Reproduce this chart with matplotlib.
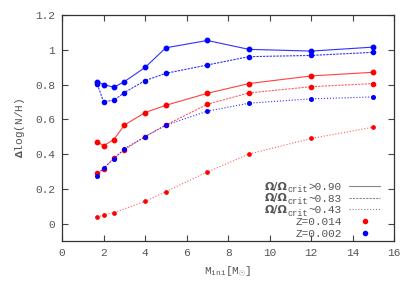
import matplotlib
matplotlib.use("Agg")
import matplotlib.pyplot as plt

plt.rcParams['font.family'] = ['Liberation Mono', 'DejaVu Sans Mono']
plt.rcParams['mathtext.fontset'] = 'custom'
plt.rcParams['mathtext.rm'] = 'Liberation Mono'
plt.rcParams['mathtext.it'] = 'Liberation Mono'
plt.rcParams['mathtext.bf'] = 'Liberation Mono:bold'

# initial masses
m_all = [1.7, 2.0, 2.5, 3.0, 4.0, 5.0, 7.0, 9.0, 12.0, 15.0]
m_no3 = [1.7, 2.0, 2.5, 4.0, 5.0, 7.0, 9.0, 12.0, 15.0]

# Z=0.002 (blue)
blue_fast = [0.817, 0.80, 0.785, 0.817, 0.899, 1.012, 1.054, 1.003, 0.993, 1.016]
blue_mid = [0.802, 0.702, 0.710, 0.754, 0.823, 0.865, 0.913, 0.961, 0.968, 0.986]
blue_slow = [0.276, 0.321, 0.371, 0.431, 0.500, 0.567, 0.647, 0.693, 0.718, 0.729]

# Z=0.014 (red)
red_fast = [0.471, 0.448, 0.484, 0.567, 0.639, 0.681, 0.750, 0.806, 0.850, 0.871]
red_mid = [0.291, 0.312, 0.379, 0.425, 0.501, 0.567, 0.687, 0.752, 0.788, 0.806]
red_slow = [0.036, 0.050, 0.063, 0.128, 0.184, 0.297, 0.400, 0.490, 0.555]

omega_tails = ['>0.90', '~0.83', '~0.43']
z_labels = ['Z=0.014', 'Z=0.002']

txt = '#555555'
fs = 8
fig = plt.figure(figsize=(4.11, 2.91), dpi=100)
ax = fig.add_axes([0.151, 0.172, 0.808, 0.776])

lw = 0.8
ax.plot(m_all, red_fast, '-', color='#ff4040', lw=lw, marker='o', ms=3.2, mfc='red', mec='red')
ax.plot(m_all, red_mid, '--', dashes=(2, 1), color='#ff6060', lw=lw, marker='o', ms=3.0, mfc='red', mec='red')
ax.plot(m_no3, red_slow, ':', color='#ff6060', lw=lw, marker='o', ms=2.4, mfc='red', mec='red')
ax.plot(m_all, blue_fast, '-', color='#3030ff', lw=lw, marker='o', ms=3.2, mfc='blue', mec='blue')
ax.plot(m_all, blue_mid, '--', dashes=(2, 1), color='#3030ff', lw=lw, marker='o', ms=3.0, mfc='blue', mec='blue')
ax.plot(m_all, blue_slow, ':', color='#3030ff', lw=lw, marker='o', ms=2.6, mfc='blue', mec='blue')

ax.set_xlim(0, 16)
ax.set_ylim(-0.1, 1.2)
ax.set_xticks(range(0, 17, 2))
ax.set_yticks([0, 0.2, 0.4, 0.6, 0.8, 1.0, 1.2])
ax.set_yticklabels(['0', '0.2', '0.4', '0.6', '0.8', '1', '1.2'])
ax.tick_params(direction='in', top=True, right=True, length=4, width=0.8,
               labelsize=fs, labelcolor=txt, color='#444444', pad=5)
for s in ax.spines.values():
    s.set_color('#333333')
    s.set_linewidth(0.9)

ax.set_xlabel(r'M$_{\rm ini}$[M$_{\odot}$]', fontsize=fs, color=txt, labelpad=5)
ax.set_ylabel(r'$\mathbf{\Delta}$log(N/H)', fontsize=fs, color=txt, labelpad=6)

# key, gnuplot style: text right-aligned, sample on the right
key_styles = [
    dict(ls='-', color='#888888'),
    dict(ls='--', dashes=(2, 1), color='#888888'),
    dict(ls=':', color='#888888'),
    dict(ls='none', marker='o', ms=3, color='red'),
    dict(ls='none', marker='o', ms=3, color='blue'),
]
row0, pitch, xt = 0.2436, 0.0517, 0.842
sub_fs = 6.2
w_tail = 5 * 0.6 * fs
w_sub = 4 * 0.6 * sub_fs
for i, st in enumerate(key_styles):
    yy = row0 - i * pitch
    kw = dict(xy=(xt, yy), xycoords='axes fraction', textcoords='offset points',
              ha='right', va='center_baseline', color=txt)
    if i < 3:
        ax.annotate(omega_tails[i], xytext=(0, 0), fontsize=fs, **kw)
        ax.annotate('crit', xytext=(-w_tail, -2.2), fontsize=sub_fs, **kw)
        ax.annotate('Ω/Ω', xytext=(-w_tail - w_sub, 0.3), fontsize=fs,
                    family='DejaVu Sans', fontweight='bold', **kw)
    else:
        ax.annotate(z_labels[i - 3], xytext=(0, 0), fontsize=fs, **kw)
    if st['ls'] == 'none':
        ax.plot([0.911], [yy], transform=ax.transAxes, clip_on=False, **st)
    else:
        ax.plot([0.864, 0.958], [yy, yy], transform=ax.transAxes, lw=0.8, clip_on=False, **st)

fig.savefig('out.png', dpi=100)
